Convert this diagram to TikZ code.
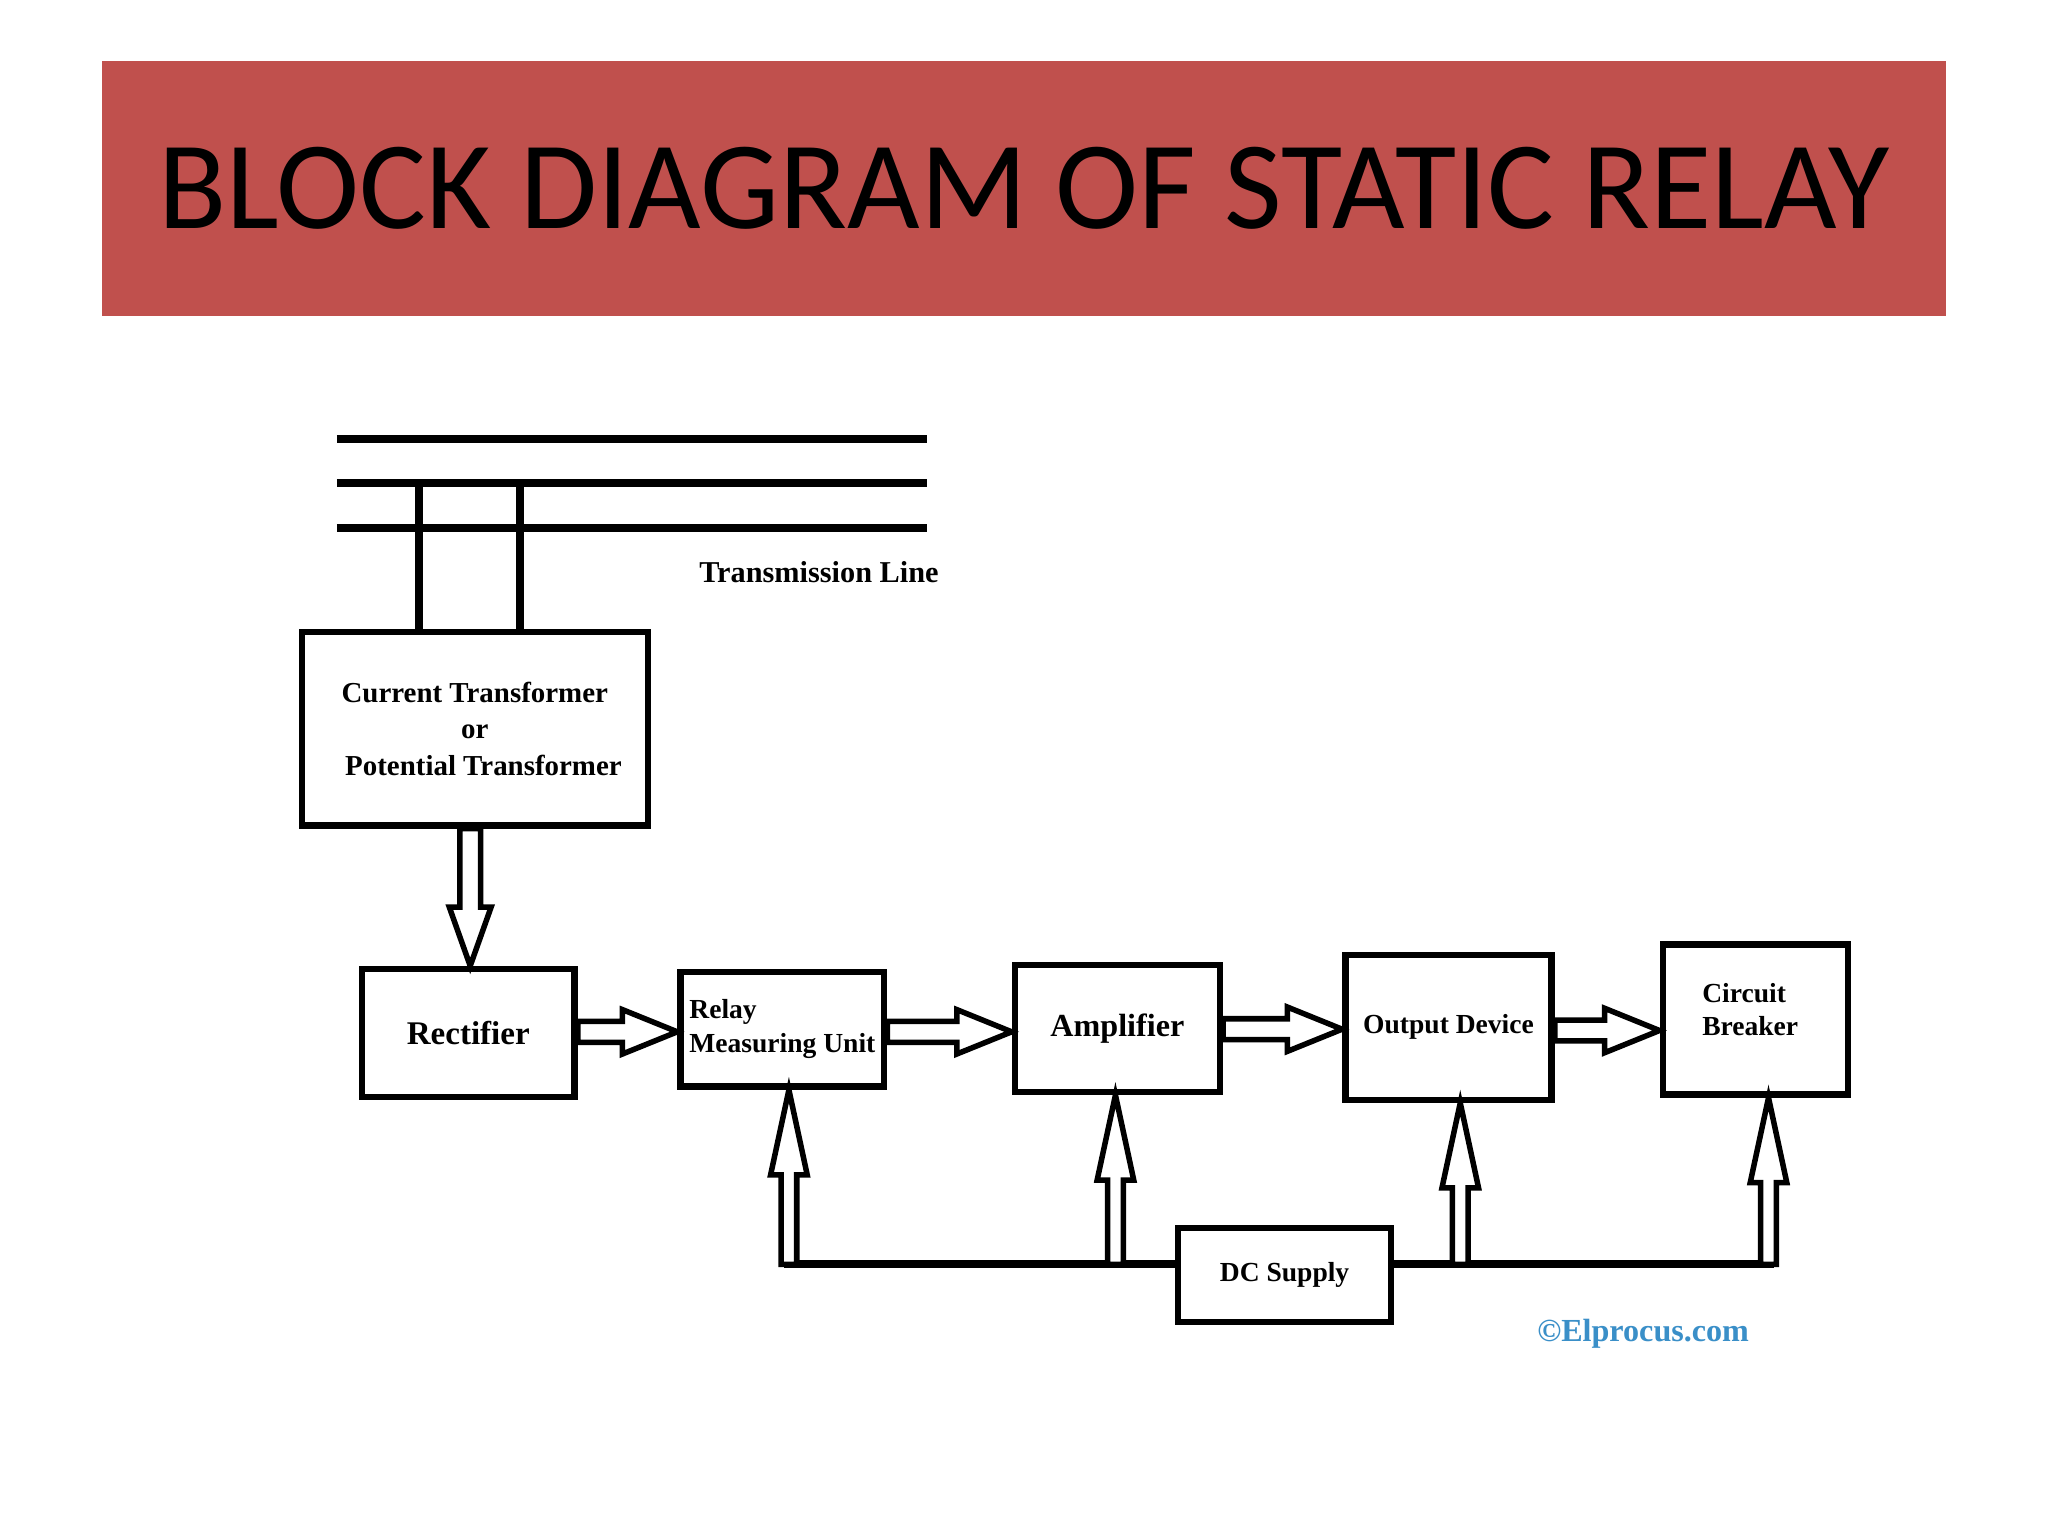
\documentclass[tikz,border=0pt]{standalone}
\usepackage{fontspec}
\setmainfont{Liberation Serif}
\newfontfamily\titlefont{Carlito}
\usetikzlibrary{calc}
\definecolor{titlered}{HTML}{C0504D}
\definecolor{elblue}{HTML}{3A8FC8}
\tikzset{
  blk/.style={draw, line width=1.4pt, inner sep=0pt, font=\bfseries\fontsize{6}{7.3}\selectfont, align=left},
  hol/.style={draw, line width=1.2pt, fill=white, line join=miter},
  wire/.style={line width=1.7pt},
}
\newcommand\harr[3]{\draw[hol] let \p1=(#1.east), \p2=(#2.west) in
  (\x1,#3+0.08) -- (\x2-0.42cm,#3+0.08) -- (\x2-0.42cm,#3+0.17) -- (\x2,#3) -- (\x2-0.42cm,#3-0.17) -- (\x2-0.42cm,#3-0.08) -- (\x1,#3-0.08) -- cycle;}
\begin{document}
\begin{tikzpicture}
\useasboundingbox (0,0) rectangle (15.68,11.76);
\fill[white] (0,0) rectangle (15.68,11.76);
\node[fill=titlered, minimum width=14.12cm, minimum height=1.95cm, inner sep=0pt, font=\titlefont\fontsize{27.3}{32}\selectfont] (title) at (7.84,10.315) {BLOCK DIAGRAM OF STATIC RELAY};
\coordinate (l1a) at (2.58,8.40); \coordinate (l1b) at (7.10,8.40);
\coordinate (l2a) at (2.58,8.06); \coordinate (l2b) at (7.10,8.06);
\coordinate (l3a) at (2.58,7.72); \coordinate (l3b) at (7.10,7.72);
\draw[wire] (l1a) -- (l1b); \draw[wire] (l2a) -- (l2b); \draw[wire] (l3a) -- (l3b);
\node[font=\bfseries\fontsize{6.6}{8}\selectfont] (tl) at (6.27,7.38) {Transmission Line};
\node[blk, minimum width=2.65cm, minimum height=1.48cm, align=center, font=\bfseries\fontsize{6.3}{7}\selectfont] (ct) at (3.635,6.18)
 {Current Transformer\\[1pt] or\\[1pt] \hspace*{0.6em}Potential Transformer};
\draw[wire] (3.21,8.06) -- (3.21,6.92);
\draw[wire] (3.98,8.06) -- (3.98,6.92);
\node[blk, minimum width=1.63cm, minimum height=0.98cm, font=\bfseries\fontsize{7.2}{9}\selectfont] (rect) at (3.585,3.85) {Rectifier};
\node[blk, minimum width=1.56cm, minimum height=0.88cm] (rmu) at (5.99,3.88) {Relay\\Measuring Unit};
\node[blk, minimum width=1.57cm, minimum height=0.97cm, font=\bfseries\fontsize{7}{9}\selectfont] (amp) at (8.555,3.885) {Amplifier};
\node[blk, minimum width=1.58cm, minimum height=1.11cm] (od) at (11.09,3.895) {Output Device};
\node[blk, minimum width=1.42cm, minimum height=1.15cm] (cb) at (13.44,3.955) {};
\node[font=\bfseries\fontsize{6}{7.3}\selectfont, align=left, inner sep=0pt] (cbt) at (13.40,4.03) {Circuit\\Breaker};
\node[blk, minimum width=1.63cm, minimum height=0.72cm] (dc) at (9.835,2.00) {DC Supply};
\draw[hol] let \p1=(ct.south), \p2=(rect.north) in
  (3.52,\y1) -- (3.52,\y2+0.45cm) -- (3.44,\y2+0.45cm) -- (3.60,\y2) -- (3.76,\y2+0.45cm) -- (3.68,\y2+0.45cm) -- (3.68,\y1) -- cycle;
\harr{rect}{rmu}{3.86}
\harr{rmu}{amp}{3.86}
\harr{amp}{od}{3.88}
\harr{od}{cb}{3.87}
\coordinate (busL) at (6.00,2.08);
\coordinate (busR) at (13.58,2.08);
\draw[wire] (busL) -- (dc.west |- busL);
\draw[wire] (dc.east |- busR) -- (busR);
\foreach \xx/\nd in {6.04/rmu, 8.54/amp, 11.18/od, 13.54/cb}{
 \draw[hol] let \p2=(\nd.south) in
  (\xx-0.06,2.08) -- (\xx-0.06,\y2-0.65cm) -- (\xx-0.14,\y2-0.65cm) -- (\xx,\y2) -- (\xx+0.14,\y2-0.65cm) -- (\xx+0.06,\y2-0.65cm) -- (\xx+0.06,2.08) -- cycle;
}
\node[font=\bfseries\fontsize{7}{9}\selectfont, text=elblue] (cr) at (12.58,1.55) {\textcopyright Elprocus.com};
\end{tikzpicture}
\end{document}
